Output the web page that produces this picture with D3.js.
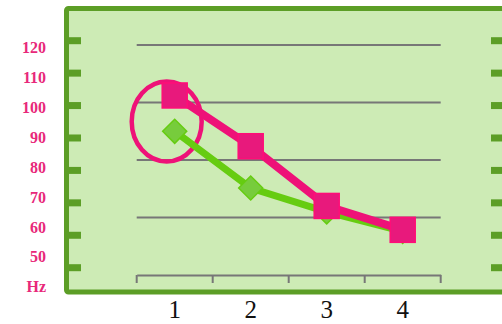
<!DOCTYPE html>
<html>
<head>
<meta charset="utf-8">
<script src="https://cdn.jsdelivr.net/npm/d3@7"></script>
<style>
  body { margin: 0; background: #ffffff; }
  svg { display: block; }
  .serif { font-family: "Liberation Serif", "DejaVu Serif", serif; }
</style>
</head>
<body>
<div id="chart"></div>
<script>
// data
var categories = [1, 2, 3, 4];
var pinkValues = [104, 87, 67, 59];
var greenValues = [92, 73, 65, 58.5];
var yLabels = ["120", "110", "100", "90", "80", "70", "60", "50", "Hz"];
var frameTicks = [0, 1, 2, 3, 4, 5, 6, 7];
var gridLevels = [1, 2, 3, 4];
var circledValue = 95.3;

var width = 502, height = 324;

var pink = "#ee1278";
var pinkFill = "#e8197c";
var green = "#66cc11";
var greenFill = "#77cc3c";
var frameColor = "#5c9e26";
var panelFill = "#cdebb5";
var gridColor = "#777777";

var svg = d3.select("#chart")
    .append("svg")
    .attr("width", width)
    .attr("height", height);

// scales
var x = d3.scaleBand()
    .domain(categories)
    .range([136.7, 440.7]);

var y = d3.scaleLinear()
    .domain([50, 120])
    .range([256.7, 47.7]);

var labelY = d3.scalePoint()
    .domain(yLabels)
    .range([47.7, 286.7]);

var tickY = d3.scaleLinear()
    .domain([0, 7])
    .range([40.7, 267.7]);

var gridY = d3.scaleLinear()
    .domain([0, 4])
    .range([275, 45]);

// panel with green frame (open on the right)
svg.append("rect")
    .attr("x", 66.5)
    .attr("y", 8.5)
    .attr("width", 460)
    .attr("height", 283.5)
    .attr("rx", 2)
    .attr("fill", panelFill)
    .attr("stroke", frameColor)
    .attr("stroke-width", 5);

// frame ticks left and right
svg.append("g")
    .selectAll("rect")
    .data(frameTicks)
    .join("rect")
    .attr("x", 67)
    .attr("y", function (d) { return tickY(d) - 3.5; })
    .attr("width", 14)
    .attr("height", 7)
    .attr("fill", frameColor);

svg.append("g")
    .selectAll("rect")
    .data(frameTicks)
    .join("rect")
    .attr("x", 491)
    .attr("y", function (d) { return tickY(d) - 3.5; })
    .attr("width", 14)
    .attr("height", 7)
    .attr("fill", frameColor);

// y labels
svg.append("g")
    .selectAll("text")
    .data(yLabels)
    .join("text")
    .attr("class", "serif")
    .attr("x", 46)
    .attr("y", function (d) { return labelY(d); })
    .attr("dy", "0.35em")
    .attr("text-anchor", "end")
    .attr("font-weight", "bold")
    .attr("font-size", "16px")
    .attr("fill", "#e8287a")
    .text(function (d) { return d; });

// gray gridlines
svg.append("g")
    .selectAll("line")
    .data(gridLevels)
    .join("line")
    .attr("x1", x.range()[0])
    .attr("x2", x.range()[1])
    .attr("y1", function (d) { return gridY(d); })
    .attr("y2", function (d) { return gridY(d); })
    .attr("stroke", gridColor)
    .attr("stroke-width", 2);

// bottom axis bracket
var xAxis = svg.append("g")
    .attr("transform", "translate(0," + gridY(0) + ")")
    .call(d3.axisBottom(x).tickValues([]).tickSizeOuter(0));
xAxis.select(".domain").attr("stroke", gridColor).attr("stroke-width", 2);

var bounds = categories.map(function (c) { return x(c); }).concat([x.range()[1]]);
xAxis.selectAll(".bound")
    .data(bounds)
    .join("line")
    .attr("class", "bound")
    .attr("x1", function (d) { return d; })
    .attr("x2", function (d) { return d; })
    .attr("y1", 0)
    .attr("y2", 8)
    .attr("stroke", gridColor)
    .attr("stroke-width", 2);

// x labels
svg.append("g")
    .selectAll("text")
    .data(categories)
    .join("text")
    .attr("class", "serif")
    .attr("x", function (d) { return x(d) + x.bandwidth() / 2; })
    .attr("y", 318)
    .attr("text-anchor", "middle")
    .attr("font-size", "25px")
    .attr("fill", "#111111")
    .text(function (d) { return d; });

function cx(d, i) { return x(categories[i]) + x.bandwidth() / 2; }

// highlight ellipse round the first point
svg.append("ellipse")
    .attr("cx", x(categories[0]) + x.bandwidth() / 2 - 8)
    .attr("cy", y(circledValue))
    .attr("rx", 35)
    .attr("ry", 40)
    .attr("fill", "none")
    .attr("stroke", pink)
    .attr("stroke-width", 4.5);

// green series
svg.append("path")
    .datum(greenValues)
    .attr("fill", "none")
    .attr("stroke", green)
    .attr("stroke-width", 7)
    .attr("d", d3.line().x(cx).y(function (d) { return y(d); }));

svg.append("g")
    .selectAll("rect")
    .data(greenValues)
    .join("rect")
    .attr("x", -8.5)
    .attr("y", -8.5)
    .attr("width", 17)
    .attr("height", 17)
    .attr("transform", function (d, i) {
        return "translate(" + cx(d, i) + "," + y(d) + ") rotate(45)";
    })
    .attr("fill", greenFill)
    .attr("stroke", green)
    .attr("stroke-width", 1.5);

// pink series
svg.append("path")
    .datum(pinkValues)
    .attr("fill", "none")
    .attr("stroke", pink)
    .attr("stroke-width", 8)
    .attr("d", d3.line().x(cx).y(function (d) { return y(d); }));

svg.append("g")
    .selectAll("rect")
    .data(pinkValues)
    .join("rect")
    .attr("x", function (d, i) { return cx(d, i) - 12.5; })
    .attr("y", function (d) { return y(d) - 12.5; })
    .attr("width", 25)
    .attr("height", 25)
    .attr("fill", pinkFill)
    .attr("stroke", "#ff0d78")
    .attr("stroke-width", 1.5);
</script>
</body>
</html>
